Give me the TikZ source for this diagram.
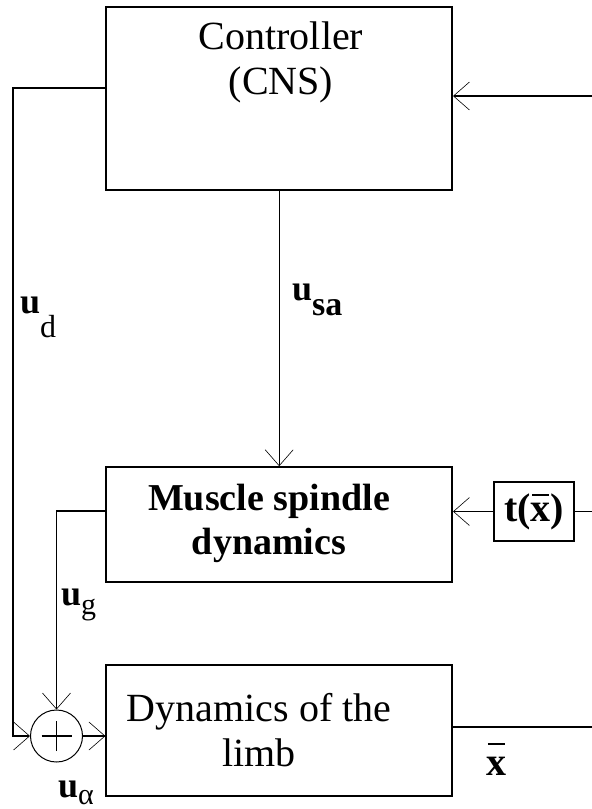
\documentclass[tikz,border=0pt]{standalone}
\usepackage{fontspec}
\setmainfont{Liberation Serif}
\usetikzlibrary{arrows.meta}
\newcommand\barx[1]{\makebox[0pt][l]{\hspace{0.04em}\rule[#1]{0.42em}{2.2pt}}x}
\begin{document}
\begin{tikzpicture}[x=1pt,y=-1pt,
  blk/.style={draw, line width=1.6pt, rectangle, inner sep=0pt},
  txt/.style={align=center, inner sep=0pt, font=\fontsize{40}{45}\selectfont},
  lbl/.style={inner sep=0pt, anchor=base west},
  conn/.style={line width=1.4pt},
  arr/.style={line width=1.4pt, -{Straight Barb[length=16pt,width=28pt,line width=0.6pt]}},
  sumnode/.style={circle, draw, line width=1pt, minimum size=52pt, inner sep=0pt,
    path picture={\draw[line width=1.2pt] (path picture bounding box.center) +(-15pt,0) -- +(15pt,0)
      (path picture bounding box.center) +(0,-15pt) -- +(0,15pt);}}
]
\useasboundingbox (0,0) rectangle (592,809);
% blocks
\node[blk, minimum width=346pt, minimum height=183pt] (ctrl) at (279.2,98.6) {};
\node[txt] (ctrltxt) at (281,62) {Controller\\(CNS)};
\node[blk, minimum width=346pt, minimum height=115pt] (spin) at (279.2,524.5) {};
\node[txt, font=\fontsize{38}{44}\selectfont\bfseries] (spintxt) at (269,523) {Muscle spindle\\dynamics};
\node[blk, minimum width=346pt, minimum height=131pt] (limb) at (279.2,730.5) {};
\node[txt] (limbtxt) at (259,730) {Dynamics of the\\limb};
\node[blk, line width=1.4pt, minimum width=80pt, minimum height=59pt] (tb) at (534,511.5)
  {\fontsize{40}{44}\selectfont\bfseries t(\barx{0.62em})};
\node[sumnode] (sum) at (56.5,736) {};
% free ends
\coordinate (inR) at (592,96);
\coordinate (tR) at (592,511.5);
\coordinate (outR) at (592,727);
\coordinate (dl) at (13,88);
\coordinate (gl) at (56.5,511);
% connectors
\draw[arr] (inR) -- (inR -| ctrl.east);
\draw[arr] (ctrl.south) -- (spin.north);
\draw[arr] (ctrl.west |- dl) -- (dl) |- (sum.west);
\draw[arr] (tb.west) -- (tb.west -| spin.east);
\draw[conn] (tb.east) -- (tR);
\draw[arr] (spin.west |- gl) -- (gl) -- (sum.north);
\draw[arr] (sum.east) -- (sum.east -| limb.west);
\draw[conn] (outR -| limb.east) -- (outR);
% labels
\node[lbl] (ud) at (20,313) {\fontsize{36}{40}\selectfont\bfseries u\raisebox{-24pt}{\fontsize{32}{36}\selectfont\mdseries d}};
\node[lbl] (usa) at (292,300) {\fontsize{36}{40}\selectfont\bfseries u\raisebox{-15pt}{\fontsize{34}{36}\selectfont sa}};
\node[lbl] (ug) at (61,605) {\fontsize{36}{40}\selectfont\bfseries u\raisebox{-9pt}{\fontsize{30}{36}\selectfont\mdseries g}};
\node[lbl] (ua) at (58,797) {\fontsize{36}{40}\selectfont\bfseries u\raisebox{-7pt}{\fontsize{30}{36}\selectfont\mdseries α}};
\node[lbl] (xbar) at (486,775) {\fontsize{40}{40}\selectfont\bfseries \barx{0.75em}};
\end{tikzpicture}
\end{document}
